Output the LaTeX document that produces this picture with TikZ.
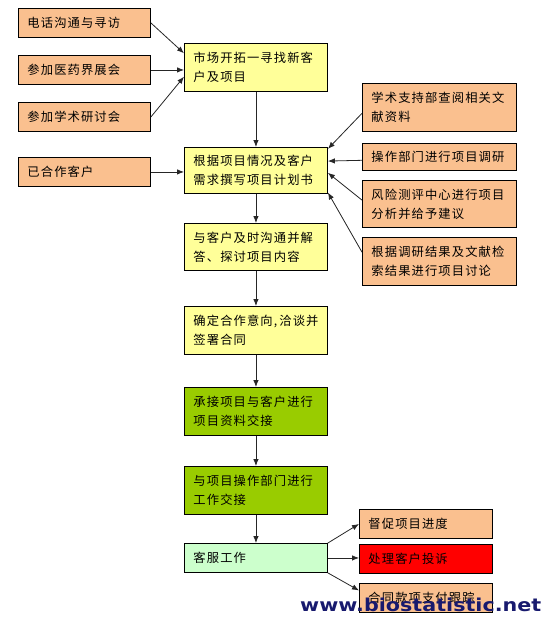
\documentclass[tikz,border=0pt]{standalone}
\usepackage{fontspec}
\newfontfamily\cjk[LetterSpace=9]{Noto Sans CJK SC}
\newfontfamily\wmfont{DejaVu Sans}
\usetikzlibrary{arrows.meta,calc}
\definecolor{peach}{RGB}{250,192,143}
\definecolor{lyellow}{RGB}{255,255,153}
\definecolor{lgreen}{RGB}{153,204,0}
\definecolor{pgreen}{RGB}{204,255,204}
\definecolor{wmblue}{RGB}{24,26,110}
\begin{document}
\begin{tikzpicture}[x=1pt,y=-1pt,
  box/.style={draw=black, line width=0.9pt, anchor=north west, inner xsep=9pt, inner ysep=0pt,
    align=left, font=\cjk\fontsize{12.3}{19}\selectfont},
  lbox/.style={box, fill=peach, minimum width=132pt, text width=114pt, minimum height=29pt},
  cbox/.style={box, fill=lyellow, minimum width=143pt, text width=125pt, minimum height=48pt},
  gbox/.style={cbox, fill=lgreen},
  rbox/.style={box, fill=peach, minimum width=154pt, text width=136pt, minimum height=48pt},
  sbox/.style={box, fill=peach, minimum width=133pt, text width=115pt, minimum height=29pt},
  arr/.style={draw=black!85, line width=0.8pt, -{Latex[length=7pt,width=5.5pt]}}
]
\useasboundingbox (0,0) rectangle (546,618);

% left column
\node[lbox] (e1) at (18,8) {电话沟通与寻访};
\node[lbox] (e2) at (18,55) {参加医药界展会};
\node[lbox] (e3) at (18,102) {参加学术研讨会};
\node[lbox] (e4) at (18,157) {已合作客户};

% centre column
\node[cbox] (m1) at (184,43) {市场开拓一寻找新客\\户及项目};
\node[cbox, minimum height=46pt] (m2) at (184,147) {根据项目情况及客户\\需求撰写项目计划书};
\node[cbox, minimum height=47pt] (m3) at (184,223) {与客户及时沟通并解\\答、探讨项目内容};
\node[cbox] (m4) at (184,306) {确定合作意向,\,洽谈并\\签署合同};
\node[gbox] (m5) at (184,387) {承接项目与客户进行\\项目资料交接};
\node[gbox] (m6) at (184,466) {与项目操作部门进行\\工作交接};
\node[cbox, fill=pgreen, minimum height=29pt] (m7) at (184,543) {客服工作};

% right column
\node[rbox] (r1) at (362,83) {学术支持部查阅相关文\\献资料};
\node[rbox, minimum height=27pt] (r2) at (362,143) {操作部门进行项目调研};
\node[rbox, minimum height=47pt] (r3) at (362,180) {风险测评中心进行项目\\分析并给予建议};
\node[rbox] (r4) at (362,237) {根据调研结果及文献检\\索结果进行项目讨论};

% bottom right
\node[sbox] (b1) at (359,509) {督促项目进度};
\node[sbox, fill=red] (b2) at (359,544) {处理客户投诉};
\node[sbox] (b3) at (359,583) {合同款项支付跟踪};

% connectors
\draw[arr] (e1.east) -- ($(m1.north west)!0.21!(m1.south west)$);
\draw[arr] (e2.east) -- (e2.east -| m1.west);
\draw[arr] (e3.east) -- ($(m1.north west)!0.69!(m1.south west)$);
\draw[arr] (e4.east) -- (e4.east -| m2.west);

\draw[arr] (m1.south) -- (m2.north);
\draw[arr] (m2.south) -- (m3.north);
\draw[arr] (m3.south) -- (m4.north);
\draw[arr] (m4.south) -- (m5.north);
\draw[arr] (m5.south) -- (m6.north);
\draw[arr] (m6.south) -- (m7.north);

\draw[arr] ($(r1.north west)!0.62!(r1.south west)$) -- ($(m2.north east)!0.04!(m2.south east)$);
\draw[arr] ($(r2.north west)!0.62!(r2.south west)$) -- ($(m2.north east)!0.3!(m2.south east)$);
\draw[arr] ($(r3.north west)!0.42!(r3.south west)$) -- ($(m2.north east)!0.55!(m2.south east)$);
\draw[arr] ($(r4.north west)!0.31!(r4.south west)$) -- ($(m2.north east)!0.97!(m2.south east)$);

\draw[arr] (m7.north east) -- (b1.west);
\draw[arr] (m7.east) -- (m7.east -| b2.west);
\draw[arr] (m7.south east) -- ($(b3.north west)!0.25!(b3.south west)$);

% watermark
\node[anchor=base west, inner sep=0pt, text=wmblue] (wm) at (300,611)
  {\resizebox{241pt}{13.5pt}{\wmfont\bfseries www.biostatistic.net}};
\end{tikzpicture}
\end{document}
